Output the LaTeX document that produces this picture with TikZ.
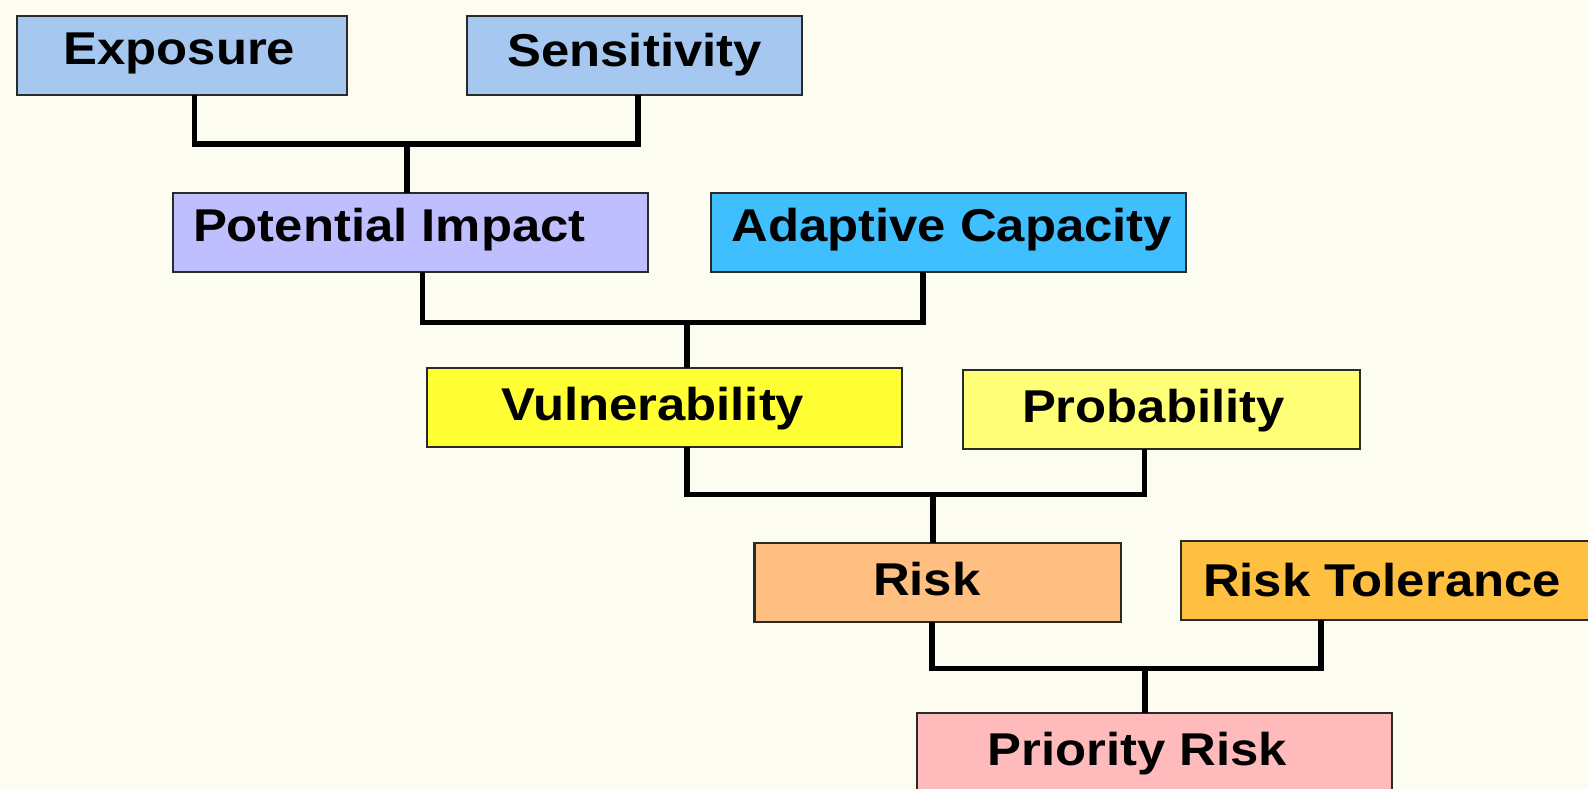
\documentclass[tikz,border=0pt]{standalone}
\usepackage{fontspec}
\setmainfont{Liberation Sans}[FakeStretch=1.105]
\usetikzlibrary{calc}
\definecolor{bg}{HTML}{FCFCF0}
\definecolor{cexp}{HTML}{A6C8F0}
\definecolor{cpi}{HTML}{BFBFFF}
\definecolor{cac}{HTML}{40BFFF}
\definecolor{cvul}{HTML}{FFFF33}
\definecolor{cprob}{HTML}{FFFF77}
\definecolor{crisk}{HTML}{FFBF80}
\definecolor{crt}{HTML}{FFBF40}
\definecolor{cpr}{HTML}{FFBBBB}
\definecolor{edge}{HTML}{2A2A2A}
\tikzset{
  box/.style={draw=edge, line width=2.2pt, rectangle, inner sep=0pt, outer sep=0pt, anchor=north west},
  txt/.style={inner sep=0pt, outer sep=0pt, anchor=base west, font=\bfseries\fontsize{46}{50}\selectfont, text=black},
  link/.style={line width=5.5pt, draw=black, line join=miter}
}
\begin{document}
\begin{tikzpicture}[x=1pt,y=-1pt]
\useasboundingbox (0,0) rectangle (1588,789);
\clip (0,0) rectangle (1588,789);
\fill[bg] (0,0) rectangle (1588,789);

% boxes
\node[box, fill=cexp, minimum width=330pt, minimum height=79pt] (e) at (17,16) {};
\node[box, fill=cexp, minimum width=335pt, minimum height=79pt] (s) at (467,15.7) {};
\node[box, fill=cpi, minimum width=475pt, minimum height=79pt] (pi) at (173.3,193.3) {};
\node[box, fill=cac, minimum width=475pt, minimum height=79pt] (ac) at (711,192.7) {};
\node[box, fill=cvul, minimum width=475pt, minimum height=79pt] (v) at (427.3,368.3) {};
\node[box, fill=cprob, minimum width=397.5pt, minimum height=79pt] (p) at (962.7,370) {};
\node[box, fill=crisk, minimum width=366.7pt, minimum height=79pt] (r) at (754.5,542.7) {};
\node[box, fill=crt, minimum width=430pt, minimum height=79pt] (rt) at (1181,540.7) {};
\node[box, fill=cpr, minimum width=475pt, minimum height=100pt] (pr) at (916.6,713.3) {};

% texts
\node[txt] (et) at (63.5,65) {Exposure};
\node[txt] (st) at (507.5,66.7) {Sensitivity};
\node[txt] (pit) at (193,241) {Potential Impact};
\node[txt] (act) at (731.5,241) {Adaptive Capacity};
\node[txt] (vt) at (501,420.7) {Vulnerability};
\node[txt] (pt) at (1022,422.7) {Probability};
\node[txt] (rtx) at (873,595) {Risk};
\node[txt] (rtt) at (1203,596) {Risk Tolerance};
\node[txt] (prt) at (987.5,765) {Priority Risk};

% junctions
\coordinate (j1) at (407,144);
\coordinate (j2) at (687,322.7);
\coordinate (j3) at (933,494.3);
\coordinate (j4) at (1145,668.3);

% connectors
\draw[link] (e.south -| 194.6,0) |- (j1) -| (s.south -| 638,0);
\draw[link] (j1) -- (j1 |- pi.north);
\draw[link] (pi.south -| 422.6,0) |- (j2) -| (ac.south -| 923.2,0);
\draw[link] (j2) -- (j2 |- v.north);
\draw[link] (v.south -| j2) |- (j3) -| (p.south -| 1144.4,0);
\draw[link] (j3) -- (j3 |- r.north);
\draw[link] (r.south -| 932,0) |- (j4) -| (rt.south -| 1321.2,0);
\draw[link] (j4) -- (j4 |- pr.north);
\end{tikzpicture}
\end{document}
